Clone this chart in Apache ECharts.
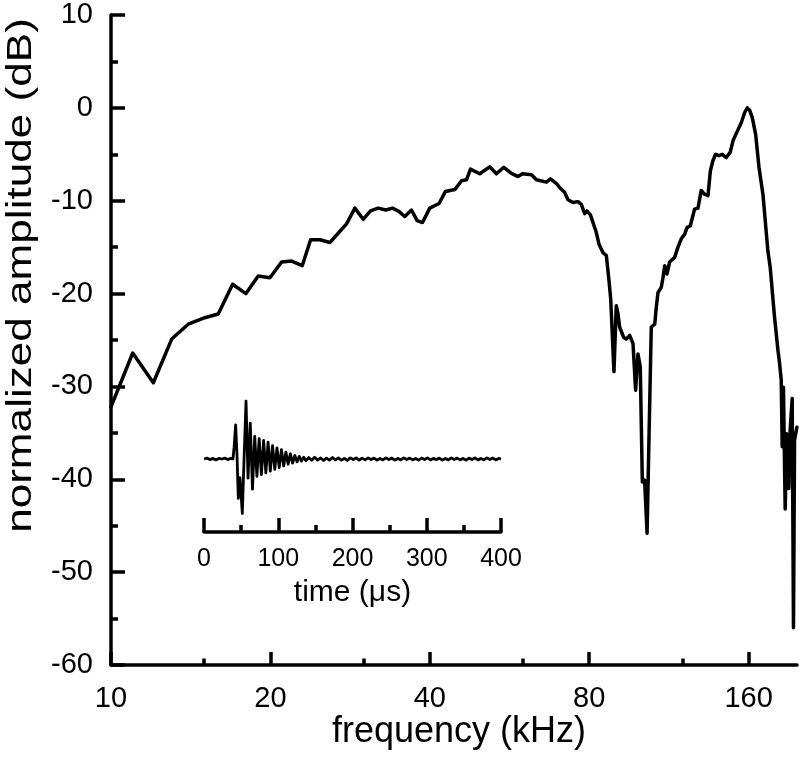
<!DOCTYPE html>
<html>
<head>
<meta charset="utf-8">
<script src="https://cdn.jsdelivr.net/npm/echarts@6/dist/echarts.min.js"></script>
<style>
html,body{margin:0;padding:0;background:#fff;}
#c{width:800px;height:759px;}
</style>
</head>
<body>
<div id="c"></div>
<script>
// ---- main spectrum (frequency in kHz, normalized amplitude in dB) ----
const freqKHz = [
  10.0, 10.99, 12.02, 13.02, 13.99, 15.04, 15.94, 16.97, 17.98, 18.97,
  19.96, 21.0, 21.93, 22.97, 23.82, 24.8, 25.9, 26.86, 27.85, 28.88,
  29.94, 30.91, 31.95, 33.04, 34.0, 34.96, 35.88, 36.94, 37.85, 38.75,
  40.0, 41.65, 42.82, 44.6, 45.92, 46.92, 47.74, 49.7, 51.9, 53.45,
  55.18, 57.05, 58.7, 59.85, 62.25, 63.6, 66.4, 67.6, 69.4, 70.4,
  71.9, 72.96, 74.55, 76.2, 77.3, 78.45, 79.2, 80.4, 81.3, 82.5,
  83.5, 84.96, 86.2, 87.2, 87.85, 88.5, 89.1, 90.0, 90.7, 91.3,
  92.9, 94.0, 95.4, 96.8, 97.9, 98.9, 99.9, 100.8, 101.8, 102.9,
  103.8, 104.8, 106.4, 107.1, 107.9, 109.5, 110.3, 111.1, 112.2, 113.5,
  116.0, 117.7, 119.4, 121.2, 122.4, 124.2, 126.5, 128.4, 130.2, 132.1,
  134.1, 135.5, 137.0, 138.6, 140.6, 142.7, 145.2, 147.7, 149.5, 151.7,
  155.0, 157.3, 159.1, 160.7, 162.6, 165.0, 167.4, 170.3, 174.0, 175.8,
  179.1, 181.8, 183.0, 184.4, 185.2, 186.2, 187.6, 188.9, 190.6, 191.7,
  193.4, 194.5, 195.4, 197.4
];
const ampDB = [
  -32.2, -26.4, -29.6, -24.9, -23.3, -22.6, -22.2, -19.0, -20.0, -18.1,
  -18.3, -16.6, -16.5, -17.0, -14.2, -14.2, -14.5, -13.5, -12.5, -10.8,
  -12.0, -11.1, -10.8, -11.0, -10.8, -11.15, -11.7, -11.0, -12.15, -12.35,
  -10.8, -10.3, -9.0, -8.8, -7.85, -7.75, -6.6, -7.1, -6.35, -7.1,
  -6.4, -7.05, -7.4, -7.1, -7.2, -7.75, -8.0, -7.65, -8.15, -8.6,
  -9.1, -9.9, -10.2, -10.1, -10.4, -11.4, -11.1, -11.5, -12.3, -13.4,
  -14.7, -15.6, -15.9, -18.6, -20.6, -20.8, -28.4, -21.3, -22.2, -23.6,
  -24.7, -24.9, -24.5, -25.4, -30.4, -26.5, -27.9, -40.3, -40.1, -45.8,
  -35.1, -23.6, -23.3, -21.5, -19.9, -19.3, -18.25, -17.0, -17.9, -16.6,
  -16.1, -15.0, -14.1, -13.6, -12.9, -12.7, -10.9, -10.8, -8.9, -9.3,
  -9.45, -6.8, -5.7, -5.0, -5.15, -5.0, -5.35, -4.8, -3.55, -2.75,
  -1.6, -0.5, 0.0, -0.25, -1.05, -2.85, -6.4, -9.3, -15.4, -17.2,
  -22.5, -26.1, -27.4, -29.3, -36.5, -30.1, -43.2, -35.1, -41.0, -34.7,
  -31.3, -56.0, -35.8, -34.4
];
const freqMinKHz = 10;
const freqMaxKHz = 197.5;
const freqTicksKHz = [10, 20, 40, 80, 160];
const freqMinorTicksKHz = [15, 30, 60, 120];
const dbTicks = { min: -60, max: 10, step: 10 };

// ---- inset waveform (time in microseconds, relative amplitude) ----
const timeUs = [
  0, 4, 8, 12, 16, 20, 24, 28, 32, 36,
  39, 40.5, 42.6, 44.5, 46.2, 48.5, 51.6, 54.2, 56.6, 59.3,
  62.3, 65.3, 68.3, 71.3, 74.3, 77.3, 80.3, 83.3, 86.3, 89.3,
  92.3, 95.3, 98.3, 101.3, 104.3, 107.3, 110.3, 113.3, 116.3, 119.3,
  122.3, 125.3, 128.3, 131.3, 134.3, 137.3, 141, 145, 149, 153,
  157, 161, 165, 169, 173, 177, 181, 185, 189, 193,
  197, 201, 205, 209, 213, 217, 221, 225, 229, 233,
  237, 241, 245, 249, 253, 257, 261, 265, 269, 273,
  277, 281, 285, 289, 293, 297, 301, 305, 309, 313,
  317, 321, 325, 329, 333, 337, 341, 345, 349, 353,
  357, 361, 365, 369, 373, 377, 381, 385, 389, 393,
  397, 400
];
const signal = [
  0, 0.015, -0.01, 0.01, -0.015, 0.01, 0, 0.015, -0.01, 0.01,
  0, 0.2, 0.59, 0.05, -0.68, -0.32, -0.94, 0.1, 1.0, -0.33,
  0.62, -0.52, 0.39, -0.3, 0.35, -0.27, 0.32, -0.24, 0.29, -0.21,
  0.23, -0.18, 0.19, -0.15, 0.16, -0.12, 0.12, -0.09, 0.09, -0.07,
  0.06, -0.05, 0.045, -0.035, 0.03, -0.03, 0.025, -0.02, 0.03, -0.02,
  0.02, -0.025, 0.015, -0.02, 0.025, -0.015, 0.02, -0.02, 0.01, -0.025,
  0.02, -0.01, 0.02, -0.02, 0.015, -0.015, 0.02, -0.01, 0.015, -0.02,
  0.01, -0.015, 0.02, -0.01, 0.015, -0.02, 0.01, -0.015, 0.02, -0.01,
  0.015, -0.015, 0.01, -0.02, 0.015, -0.01, 0.02, -0.015, 0.01, -0.01,
  0.015, -0.02, 0.01, -0.015, 0.02, -0.01, 0.015, -0.015, 0.01, -0.02,
  0.015, -0.01, 0.02, -0.015, 0.01, -0.015, 0.02, -0.01, 0.015, -0.015,
  0.01, 0
];
const timeTicks = { min: 0, max: 400, step: 100 };

// ---------------------------------------------------------------
const FONT = '"Liberation Sans", Arial, Helvetica, sans-serif';
const L = f => Math.log2(f / 10);   // octave position relative to 10 kHz
const BLACK = '#000';
const AXW = 3.5;

const chart = echarts.init(document.getElementById('c'), null, { renderer: 'canvas' });

const option = {
  animation: false,
  backgroundColor: '#fff',
  grid: [
    { left: 111, top: 15, width: 686, height: 650, containLabel: false },
    { left: 204, top: 401, width: 297, height: 116, containLabel: false }
  ],
  xAxis: [
    {
      gridIndex: 0, type: 'value', position: 'bottom',
      min: L(freqMinKHz), max: L(freqMaxKHz),
      axisLine: { show: true, onZero: false, lineStyle: { color: BLACK, width: AXW } },
      axisTick: { show: true, inside: true, length: 13, customValues: freqTicksKHz.map(L),
                  lineStyle: { color: BLACK, width: AXW } },
      axisLabel: { show: true, customValues: freqTicksKHz.map(L), margin: 19,
                   fontSize: 29, fontFamily: FONT, color: BLACK,
                   formatter: v => String(Math.round(10 * Math.pow(2, v))) },
      splitLine: { show: false }
    },
    {
      gridIndex: 0, type: 'value', position: 'bottom',
      min: L(freqMinKHz), max: L(freqMaxKHz),
      axisLine: { show: false, onZero: false },
      axisTick: { show: true, inside: true, length: 6.5, customValues: freqMinorTicksKHz.map(L),
                  lineStyle: { color: BLACK, width: AXW } },
      axisLabel: { show: false },
      splitLine: { show: false }
    },
    {
      gridIndex: 1, type: 'value', position: 'bottom', offset: 15,
      min: timeTicks.min, max: timeTicks.max, interval: timeTicks.step,
      axisLine: { show: true, onZero: false, lineStyle: { color: BLACK, width: AXW } },
      axisTick: { show: true, inside: true, length: 14, lineStyle: { color: BLACK, width: AXW } },
      minorTick: { show: true, splitNumber: 2, length: 7, lineStyle: { color: BLACK, width: AXW } },
      axisLabel: { show: true, margin: 15, fontSize: 25, fontFamily: FONT, color: BLACK },
      splitLine: { show: false }, minorSplitLine: { show: false },
      name: 'time (μs)', nameLocation: 'middle', nameGap: 46,
      nameTextStyle: { fontSize: 30, fontFamily: FONT, color: BLACK }
    }
  ],
  yAxis: [
    {
      gridIndex: 0, type: 'value',
      min: dbTicks.min, max: dbTicks.max, interval: dbTicks.step,
      axisLine: { show: true, onZero: false, lineStyle: { color: BLACK, width: AXW } },
      axisTick: { show: true, inside: true, length: 14, lineStyle: { color: BLACK, width: AXW } },
      minorTick: { show: true, splitNumber: 2, length: 7, lineStyle: { color: BLACK, width: AXW } },
      axisLabel: { show: true, margin: 18, fontSize: 29, fontFamily: FONT, color: BLACK },
      splitLine: { show: false }, minorSplitLine: { show: false }
    },
    {
      gridIndex: 1, type: 'value', min: -1, max: 1, show: false,
      axisLine: { onZero: false }, splitLine: { show: false }
    }
  ],
  graphic: [
    {
      type: 'text', x: 21, y: 275.5, rotation: Math.PI / 2, scaleX: 1.26, scaleY: 1,
      style: { text: 'normalized amplitude (dB)', font: '35px ' + FONT, fill: BLACK,
               textAlign: 'center', textVerticalAlign: 'middle' }
    },
    {
      type: 'text', x: 459, y: 732,
      style: { text: 'frequency (kHz)', font: '36px ' + FONT, fill: BLACK,
               textAlign: 'center', textVerticalAlign: 'middle' }
    }
  ],
  series: [
    {
      type: 'line', xAxisIndex: 0, yAxisIndex: 0,
      data: freqKHz.map((f, i) => [L(f), ampDB[i]]),
      showSymbol: false, symbol: 'none', smooth: false, clip: false,
      lineStyle: { color: BLACK, width: 3.5, join: 'round', cap: 'round' }
    },
    {
      type: 'line', xAxisIndex: 2, yAxisIndex: 1,
      data: timeUs.map((t, i) => [t, signal[i]]),
      showSymbol: false, symbol: 'none', smooth: false,
      lineStyle: { color: BLACK, width: 2.8, join: 'round' }
    }
  ]
};
chart.setOption(option);
</script>
</body>
</html>
